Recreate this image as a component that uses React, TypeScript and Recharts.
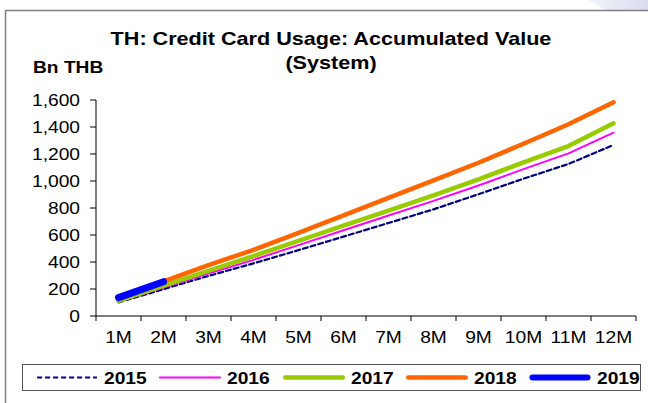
import { LineChart, Line, XAxis, YAxis, Legend } from 'recharts';

const months = ['1M', '2M', '3M', '4M', '5M', '6M', '7M', '8M', '9M', '10M', '11M', '12M'];
const yTicks = [0, 200, 400, 600, 800, 1000, 1200, 1400, 1600];

// accumulated value, Bn THB
const v2015 = [101, 199, 297, 390, 488, 588, 689, 790, 902, 1017, 1126, 1267];
const v2016 = [105, 210, 315, 416, 525, 635, 744, 853, 967, 1088, 1205, 1358];
const v2017 = [113, 225, 335, 444, 556, 669, 781, 893, 1012, 1138, 1259, 1427];
const v2018 = [130, 257, 377, 490, 616, 746, 875, 1005, 1135, 1276, 1420, 1583];
const v2019 = [136, 254];

const series = [
  { key: '2015', values: v2015, color: '#000080', width: 2.2, dash: '5 3' },
  { key: '2016', values: v2016, color: '#FF00FF', width: 2 },
  { key: '2017', values: v2017, color: '#99CC00', width: 4.5 },
  { key: '2018', values: v2018, color: '#FF6600', width: 4.5 },
  { key: '2019', values: v2019, color: '#0000FF', width: 7 },
];

const data = months.map((m, i) => {
  const row: Record<string, string | number | undefined> = { month: m };
  series.forEach((s) => {
    row[s.key] = s.values[i];
  });
  return row;
});

const W = 648;
const H = 403;
const margin = { top: 100, right: 12, bottom: 57, left: 36 };
const Y_W = 60;
const X_H = 30;
const PLOT_LEFT = margin.left + Y_W;
const PLOT_BOTTOM = H - margin.bottom - X_H;
const BAND = (W - PLOT_LEFT - margin.right) / months.length;
const FONT = '"Liberation Sans", Arial, sans-serif';
const SX = 1.2; // text in the original is stretched sideways

function XTick(props: any) {
  const { x, index, payload } = props;
  const half = BAND / 2;
  return (
    <g>
      <line x1={x - half} x2={x - half} y1={PLOT_BOTTOM} y2={PLOT_BOTTOM + 5} stroke="#000" />
      {index === months.length - 1 && (
        <line x1={x + half} x2={x + half} y1={PLOT_BOTTOM} y2={PLOT_BOTTOM + 5} stroke="#000" />
      )}
      <g transform={`translate(${x},${PLOT_BOTTOM + 27}) scale(${SX},1)`}>
        <text x={0} y={0} textAnchor="middle" fontSize={16} fontFamily={FONT} fill="#000">
          {payload.value}
        </text>
      </g>
    </g>
  );
}

function YTick(props: any) {
  const { x, y, payload } = props;
  return (
    <g transform={`translate(${x},${y}) scale(${SX},1)`}>
      <text x={0} y={0} dy="0.38em" textAnchor="end" fontSize={16} fontFamily={FONT} fill="#000">
        {Number(payload.value).toLocaleString('en-US')}
      </text>
    </g>
  );
}

function LegendBox() {
  return (
    <div
      style={{
        position: 'relative',
        width: 617,
        height: 25,
        border: '1px solid #555',
        background: '#fff',
        fontFamily: FONT,
      }}
    >
      {series.map((s, i) => (
        <div key={s.key} style={{ position: 'absolute', left: 12 + i * 123.3, top: 0, height: 25 }}>
          <svg width={64} height={25} style={{ position: 'absolute', left: 0, top: 0 }}>
            <line
              x1={s.width / 2 + 1}
              x2={63 - s.width / 2}
              y1={12.5}
              y2={12.5}
              stroke={s.color}
              strokeWidth={s.width > 5 ? 6 : s.width}
              strokeDasharray={s.dash}
              strokeLinecap={s.dash ? 'butt' : 'round'}
            />
          </svg>
          <svg width={50} height={25} style={{ position: 'absolute', left: 69, top: 0 }}>
            <g transform={`translate(0,19) scale(${SX},1)`}>
              <text x={0} y={0} fontSize={16} fontWeight="bold" fontFamily={FONT} fill="#000">
                {s.key}
              </text>
            </g>
          </svg>
        </div>
      ))}
    </div>
  );
}

export default function App() {
  return (
    <div
      style={{
        position: 'absolute',
        left: 0,
        top: 0,
        width: W,
        height: H,
        overflow: 'hidden',
        background: '#fff',
      }}
    >
      <svg width={W} height={H} style={{ position: 'absolute', left: 0, top: 0 }}>
        <defs>
          <linearGradient id="deco" x1="0" y1="0" x2="1" y2="0">
            <stop offset="0" stopColor="#f3f3fa" />
            <stop offset="1" stopColor="#dcdcf0" />
          </linearGradient>
        </defs>
        <polygon points="588,0 648,0 648,10 606,10" fill="url(#deco)" />
        <rect x={5.5} y={10.5} width={700} height={500} fill="#fff" stroke="#7f7f7f" strokeWidth={1.5} />
        <g transform={`translate(331,45) scale(${SX},1)`}>
          <text x={0} y={0} textAnchor="middle" fontSize={18} fontWeight="bold" fontFamily={FONT} fill="#000">
            TH: Credit Card Usage: Accumulated Value
          </text>
        </g>
        <g transform={`translate(331,69) scale(${SX},1)`}>
          <text x={0} y={0} textAnchor="middle" fontSize={18} fontWeight="bold" fontFamily={FONT} fill="#000">
            (System)
          </text>
        </g>
        <g transform={`translate(33,73) scale(1.2,1)`}>
          <text x={0} y={0} fontSize={16} fontWeight="bold" fontFamily={FONT} fill="#000">
            Bn THB
          </text>
        </g>
      </svg>
      <div style={{ position: 'absolute', left: 0, top: 0 }}>
        <LineChart width={W} height={H} data={data} margin={margin}>
          <XAxis
            dataKey="month"
            height={X_H}
            interval={0}
            padding={{ left: BAND / 2, right: BAND / 2 }}
            tickLine={false}
            axisLine={{ stroke: '#000' }}
            tick={<XTick />}
          />
          <YAxis
            width={Y_W}
            domain={[0, 1600]}
            ticks={yTicks}
            interval={0}
            tickSize={6}
            tickMargin={10}
            tickLine={{ stroke: '#000' }}
            axisLine={{ stroke: '#000' }}
            tick={<YTick />}
          />
          <Legend
            layout="horizontal"
            verticalAlign="middle"
            align="center"
            wrapperStyle={{ position: 'absolute', left: 22, top: 364, width: 619, height: 27 }}
            content={() => <LegendBox />}
          />
          {series.map((s) => (
            <Line
              key={s.key}
              dataKey={s.key}
              type="linear"
              stroke={s.color}
              strokeWidth={s.width}
              strokeDasharray={s.dash}
              strokeLinecap="round"
              strokeLinejoin="round"
              dot={false}
              activeDot={false}
              isAnimationActive={false}
            />
          ))}
        </LineChart>
      </div>
    </div>
  );
}
